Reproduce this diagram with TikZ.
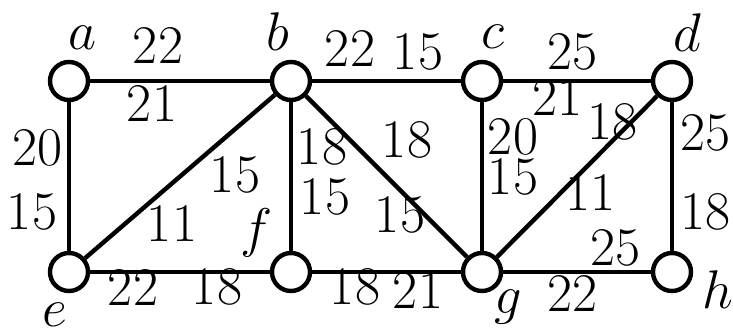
\RequirePackage{fix-cm}
\documentclass[tikz,border=0pt]{standalone}
\usepackage{tikz}
\usetikzlibrary{positioning}

\begin{document}
\begin{tikzpicture}[
  every node/.style={font=\fontsize{31}{37}\selectfont},
  vtx/.style={draw,circle,fill=white,line width=2.5pt,
              minimum size=0.76cm,inner sep=0pt},
  wt/.style={inner sep=0pt},
  edge/.style={line width=2.5pt},
]
  \useasboundingbox (0,0) rectangle (14.66,6.54);

  % vertices
  \node[vtx] (a) at (1.38, 4.92) {};
  \node[vtx] (b) at (5.82, 4.92) {};
  \node[vtx] (c) at (9.64, 4.92) {};
  \node[vtx] (d) at (13.44, 4.92) {};
  \node[vtx] (e) at (1.38, 1.10) {};
  \node[vtx] (f) at (5.82, 1.10) {};
  \node[vtx] (g) at (9.64, 1.10) {};
  \node[vtx] (h) at (13.44, 1.10) {};

  % vertex names
  \node (la) at (1.66, 5.78) {$a$};
  \node (lb) at (5.56, 5.90) {$b$};
  \node (lc) at (9.86, 5.80) {$c$};
  \node (ld) at (13.74, 5.88) {$d$};
  \node (le) at (1.10, 0.24) {$e$};
  \node (lf) at (5.14, 1.88) {$f$};
  \node (lg) at (10.16, 0.40) {$g$};
  \node (lh) at (14.36, 0.74) {$h$};

  % edges
  \draw[edge] (a) -- (b);
  \draw[edge] (b) -- (c);
  \draw[edge] (c) -- (d);
  \draw[edge] (a) -- (e);
  \draw[edge] (b) -- (e);
  \draw[edge] (b) -- (f);
  \draw[edge] (b) -- (g);
  \draw[edge] (c) -- (g);
  \draw[edge] (d) -- (g);
  \draw[edge] (d) -- (h);
  \draw[edge] (e) -- (f);
  \draw[edge] (f) -- (g);
  \draw[edge] (g) -- (h);

  % weights
  \node[wt] (wab1) at (3.16, 5.64) {22};
  \node[wt] (wab2) at (3.04, 4.48) {21};
  \node[wt] (wbc1) at (7.00, 5.58) {22};
  \node[wt] (wbc2) at (8.36, 5.50) {15};
  \node[wt] (wcd1) at (11.44, 5.50) {25};
  \node[wt] (wcd2) at (11.14, 4.60) {21};
  \node[wt] (wae1) at (0.76, 3.58) {20};
  \node[wt] (wae2) at (0.64, 2.30) {15};
  \node[wt] (wbe1) at (4.70, 3.04) {15};
  \node[wt] (wbe2) at (3.44, 2.08) {11};
  \node[wt] (wbf1) at (6.44, 3.60) {18};
  \node[wt] (wbf2) at (6.50, 2.60) {15};
  \node[wt] (wbg1) at (8.14, 3.74) {18};
  \node[wt] (wbg2) at (8.00, 2.24) {15};
  \node[wt] (wcg1) at (10.26, 3.80) {20};
  \node[wt] (wcg2) at (10.26, 3.00) {15};
  \node[wt] (wdg1) at (12.24, 4.10) {18};
  \node[wt] (wdg2) at (11.80, 2.70) {11};
  \node[wt] (wdh1) at (14.10, 3.88) {25};
  \node[wt] (wdh2) at (14.10, 2.30) {18};
  \node[wt] (wef1) at (2.66, 0.80) {22};
  \node[wt] (wef2) at (4.34, 0.80) {18};
  \node[wt] (wfg1) at (7.10, 0.80) {18};
  \node[wt] (wfg2) at (8.36, 0.74) {21};
  \node[wt] (wgh1) at (11.44, 0.68) {22};
  \node[wt] (wgh2) at (12.30, 1.58) {25};
\end{tikzpicture}
\end{document}
